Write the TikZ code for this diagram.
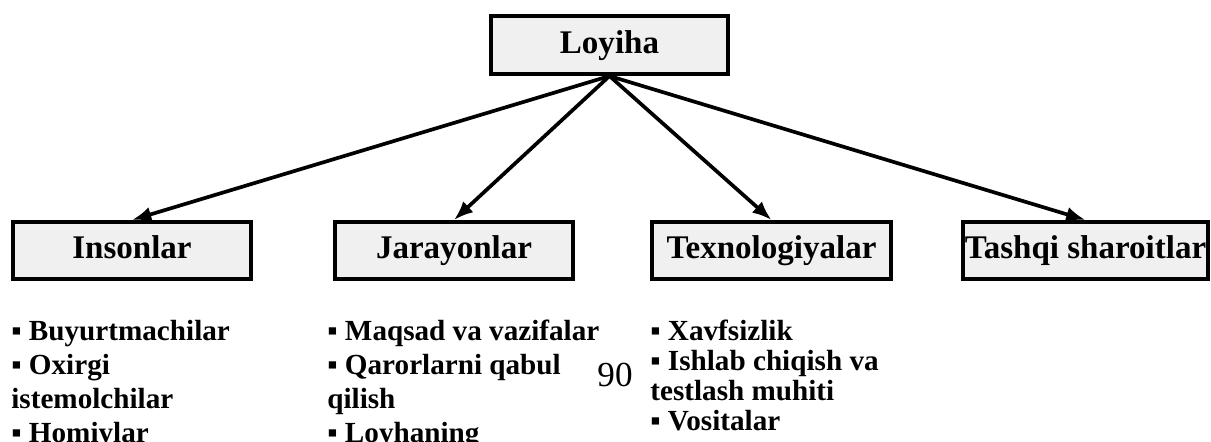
\documentclass[tikz,border=0pt]{standalone}
\usepackage{fontspec}
\setmainfont{Liberation Serif}
\usetikzlibrary{arrows.meta, positioning}
\definecolor{fGray}{HTML}{F0F0F0}
\definecolor{bdr}{HTML}{000000}
\tikzset{
  B/.style={draw=bdr, line width=2.3pt, fill=fGray,
    minimum width=4.76cm, minimum height=1.14cm, inner sep=0pt,
    text height=13pt, text depth=3.4pt,
    font=\fontsize{18.8}{20}\selectfont\bfseries, align=center},
  A/.style={-{Latex[length=11pt,width=8.5pt]}, line width=2.1pt},
  L/.style={font=\fontsize{16.6}{19.3}\selectfont\bfseries, align=left, inner sep=0pt},
}

\begin{document}
\begin{tikzpicture}[x=0.02cm, y=-0.02cm]
\useasboundingbox (0,0) rectangle (1211,441);

% =====================================================================
% TOP: project
% =====================================================================
\node[B, minimum width=4.74cm, minimum height=1.16cm] (loy) at (609.5,45) {Loyiha};

% ── FOUR COMPONENTS ──────────────────────────────────────────────────
\node[B] (ins) at (132,250.5) {Insonlar};
\node[B] (jar) at (454,250.5) {Jarayonlar};
\node[B, minimum width=4.78cm] (tex) at (771.5,250.5) {Texnologiyalar};
\node[B, minimum width=4.90cm] (tsh) at (1085.5,250.5) {Tashqi sharoitlar};

\draw[A] (loy.south) -- (ins.north);
\draw[A] (loy.south) -- (jar.north);
\draw[A] (loy.south) -- (tex.north);
\draw[A] (loy.south) -- (tsh.north);

% ── BULLET LISTS ─────────────────────────────────────────────────────
\node[L, below=0.78cm of ins.south west, anchor=north west] (insL) {%
  ▪ Buyurtmachilar\\
  ▪ Oxirgi\\
  istemolchilar\\
  ▪ Homiylar};
\node[L, below=0.78cm of jar.south west, anchor=north west, xshift=-0.12cm] (jarL) {%
  ▪ Maqsad va vazifalar\\
  ▪ Qarorlarni qabul\\
  qilish\\
  ▪ Loyhaning};
\node[L, font=\fontsize{16.6}{17}\selectfont\bfseries,
      below=0.78cm of tex.south west, anchor=north west] (texL) {%
  ▪ Xavfsizlik\\
  ▪ Ishlab chiqish va\\
  testlash muhiti\\
  ▪ Vositalar};

% page number
\node[font=\fontsize{20}{22}\selectfont, inner sep=0pt] (pg) at (615,375) {90};

\end{tikzpicture}
\end{document}
